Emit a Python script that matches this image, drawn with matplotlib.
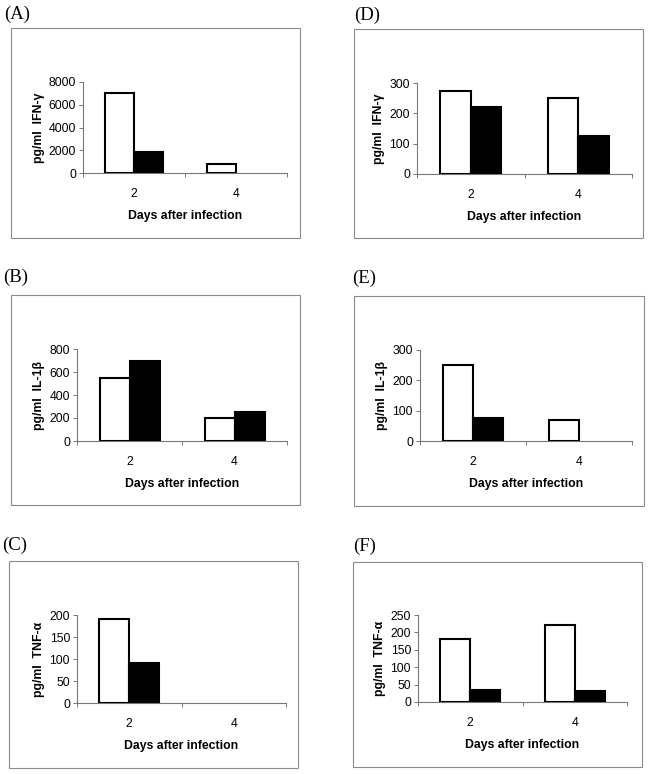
import matplotlib
matplotlib.use('Agg')
import matplotlib.pyplot as plt
from matplotlib.patches import Rectangle

plt.rcParams['font.family'] = ['Liberation Sans', 'DejaVu Sans']

W, H = 651, 774

days = ['2', '4']

# values: white bar, black bar for day 2 and day 4
ifng_a_white = [7000, 800]
ifng_a_black = [1850, 0]
il1b_b_white = [550, 200]
il1b_b_black = [700, 255]
tnfa_c_white = [190, 0]
tnfa_c_black = [90, 0]
ifng_d_white = [275, 250]
ifng_d_black = [220, 125]
il1b_e_white = [250, 70]
il1b_e_black = [75, 0]
tnfa_f_white = [180, 220]
tnfa_f_black = [35, 33]

panels = [
    # letter, ylabel, white, black, yticks, axes px (l, r, top, bottom), box px (l, r, top, bottom), letter pos
    ('(A)', 'pg/ml  IFN-γ', ifng_a_white, ifng_a_black, [0, 2000, 4000, 6000, 8000],
     (83, 287, 82, 173), (11, 300, 28, 238), (4, 14)),
    ('(B)', 'pg/ml  IL-1β', il1b_b_white, il1b_b_black, [0, 200, 400, 600, 800],
     (77, 287, 349, 441), (11, 300, 295, 505), (3, 277)),
    ('(C)', 'pg/ml  TNF-α', tnfa_c_white, tnfa_c_black, [0, 50, 100, 150, 200],
     (77, 286, 615, 703), (9, 298, 561, 768), (2, 545)),
    ('(D)', 'pg/ml  IFN-γ', ifng_d_white, ifng_d_black, [0, 100, 200, 300],
     (417, 632, 83, 174), (354, 643, 29, 238), (354, 15)),
    ('(E)', 'pg/ml  IL-1β', il1b_e_white, il1b_e_black, [0, 100, 200, 300],
     (420, 632, 350, 441), (354, 644, 296, 506), (352, 278)),
    ('(F)', 'pg/ml  TNF-α', tnfa_f_white, tnfa_f_black, [0, 50, 100, 150, 200, 250],
     (418, 627, 615, 702), (353, 642, 562, 767), (353, 546)),
]

fig = plt.figure(figsize=(W / 100, H / 100), dpi=100)

bw = 1 / 3.5
x = [0, 1]

for letter, ylab, white, black, yticks, apx, bpx, lpos in panels:
    # grey frame around each chart
    bl, br, bt, bb = bpx
    fig.patches.append(Rectangle((bl / W, 1 - bb / H), (br - bl) / W, (bb - bt) / H,
                                 transform=fig.transFigure, fill=False,
                                 edgecolor='#8a8a8a', linewidth=0.8))
    fig.text(lpos[0] / W, 1 - lpos[1] / H, letter, family='Liberation Serif',
             fontsize=13.5, va='center', ha='left')

    l, r, t, b = apx
    ax = fig.add_axes([l / W, 1 - b / H, (r - l) / W, (b - t) / H])
    lw_w = [1.5 if v > 0 else 0 for v in white]
    lw_b = [1.5 if v > 0 else 0 for v in black]
    ax.bar([i - bw / 2 for i in x], white, bw, color='white', edgecolor='black',
           linewidth=lw_w, zorder=3)
    ax.bar([i + bw / 2 for i in x], black, bw, color='black', edgecolor='black',
           linewidth=lw_b, zorder=3)

    ax.set_xlim(-0.5, 1.5)
    ax.set_ylim(0, yticks[-1])
    ax.set_yticks(yticks)
    ax.set_xticks(x)
    ax.set_xticklabels(days)
    ax.set_xticks([-0.5, 0.5, 1.5], minor=True)
    ax.tick_params(axis='x', which='major', length=0, pad=11, labelsize=8.8)
    ax.tick_params(axis='x', which='minor', length=3, width=0.7, color='#777777')
    ax.tick_params(axis='y', length=3, width=0.7, color='#777777', labelsize=8.8, pad=2)
    for s in ['top', 'right']:
        ax.spines[s].set_visible(False)
    for s in ['left', 'bottom']:
        ax.spines[s].set_color('#777777')
        ax.spines[s].set_linewidth(0.8)
    ax.set_ylabel(ylab, fontweight='bold', fontsize=8.8, labelpad=3)
    ax.set_xlabel('Days after infection', fontweight='bold', fontsize=8.8, labelpad=7)

fig.savefig('out.png', dpi=100)
